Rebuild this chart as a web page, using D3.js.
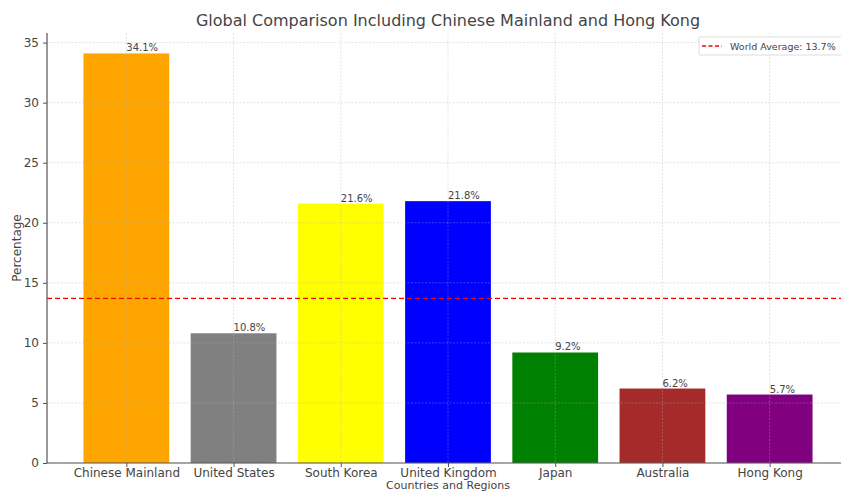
<!DOCTYPE html>
<html>
<head>
<meta charset="utf-8">
<script src="https://cdn.jsdelivr.net/npm/d3@7"></script>
<style>
  body { margin: 0; background: #fff; }
  svg { display: block; font-family: "DejaVu Sans", sans-serif; }
</style>
</head>
<body>
<div id="chart"></div>
<script>
const categories = ["Chinese Mainland", "United States", "South Korea", "United Kingdom", "Japan", "Australia", "Hong Kong"];
const values = [34.1, 10.8, 21.6, 21.8, 9.2, 6.2, 5.7];
const barColors = ["#FFA500", "#808080", "#FFFF00", "#0000FF", "#008000", "#A52A2A", "#800080"];
const worldAverage = 13.7;
const yTicks = [0, 5, 10, 15, 20, 25, 30, 35];

let margin = {top: 33, right: -8, bottom: 29, left: 47};
let W = 841, H = 492;
let width = W - margin.left - margin.right;
let height = H - margin.top - margin.bottom;

let svg = d3.select("#chart").append("svg")
  .attr("width", W).attr("height", H)
  .style("overflow", "hidden");

let g = svg.append("g").attr("transform", "translate(" + margin.left + "," + margin.top + ")");

// matplotlib-like band: 5% margins around bars
let x = d3.scaleLinear().domain([-0.74, categories.length - 1 + 0.74]).range([0, width]);
let bw = x(0.4) - x(-0.4);
let y = d3.scaleLinear().domain([0, 35.8]).range([height, 0]);

// bars
g.append("g").selectAll("rect")
  .data(values)
  .enter().append("rect")
  .attr("x", (d, i) => x(i) - bw / 2)
  .attr("y", d => y(d))
  .attr("width", bw)
  .attr("height", d => height - y(d))
  .attr("fill", (d, i) => barColors[i]);

// grid on top
let grid = g.append("g").attr("stroke", "#b0b0b0").attr("stroke-opacity", 0.45)
  .attr("stroke-dasharray", "2,1.5").attr("stroke-width", 0.8);
grid.selectAll(".gy").data(yTicks).enter().append("line")
  .attr("x1", 0).attr("x2", width)
  .attr("y1", d => y(d)).attr("y2", d => y(d));
grid.selectAll(".gx").data(categories).enter().append("line")
  .attr("x1", (d, i) => x(i)).attr("x2", (d, i) => x(i))
  .attr("y1", 0).attr("y2", height);

// world average line
g.append("line")
  .attr("x1", 0).attr("x2", width)
  .attr("y1", y(worldAverage)).attr("y2", y(worldAverage))
  .attr("stroke", "#ff0000").attr("stroke-width", 1.3)
  .attr("stroke-dasharray", "5,3");

// value labels
g.append("g").selectAll("text")
  .data(values)
  .enter().append("text")
  .attr("x", (d, i) => x(i))
  .attr("y", d => y(d) - 2)
  .attr("font-size", 10)
  .attr("fill", "#444")
  .text(d => d + "%");

// axes
let yAxis = g.append("g")
  .call(d3.axisLeft(y).tickValues(yTicks).tickSize(4).tickPadding(4));
let xAxis = g.append("g")
  .attr("transform", "translate(0," + height + ")")
  .call(d3.axisBottom(x).tickValues(d3.range(categories.length))
    .tickFormat(i => categories[i]).tickSize(4).tickPadding(1));
[yAxis, xAxis].forEach(a => {
  a.selectAll("text").attr("font-size", 12).attr("fill", "#444").style("font-family", "DejaVu Sans");
  a.selectAll("line").attr("stroke", "#555");
  a.select(".domain").attr("stroke", "#555").attr("stroke-width", 1.2);
});
yAxis.select(".domain").attr("d", "M0," + height + "V0");
xAxis.select(".domain").attr("d", "M0,0H" + width);

// titles
svg.append("text")
  .attr("x", 448).attr("y", 26)
  .attr("text-anchor", "middle").attr("font-size", 16).attr("fill", "#444")
  .text("Global Comparison Including Chinese Mainland and Hong Kong");
svg.append("text")
  .attr("x", 448).attr("y", 489.3)
  .attr("text-anchor", "middle").attr("font-size", 11).attr("fill", "#444")
  .text("Countries and Regions");
svg.append("text")
  .attr("transform", "translate(21," + (margin.top + height / 2) + ") rotate(-90)")
  .attr("text-anchor", "middle").attr("font-size", 12).attr("fill", "#444")
  .text("Percentage");

// legend
let lg = svg.append("g").attr("transform", "translate(699,37)");
lg.append("rect").attr("x", 0).attr("y", 0).attr("width", 150).attr("height", 18)
  .attr("rx", 2).attr("fill", "#fff").attr("fill-opacity", 0.8)
  .attr("stroke", "#ddd");
lg.append("line").attr("x1", 3).attr("x2", 23).attr("y1", 9).attr("y2", 9)
  .attr("stroke", "#ff0000").attr("stroke-width", 1.3).attr("stroke-dasharray", "4,2.5");
lg.append("text").attr("x", 31).attr("y", 12.5).attr("font-size", 9.5).attr("fill", "#444")
  .text("World Average: " + worldAverage + "%");
</script>
</body>
</html>
